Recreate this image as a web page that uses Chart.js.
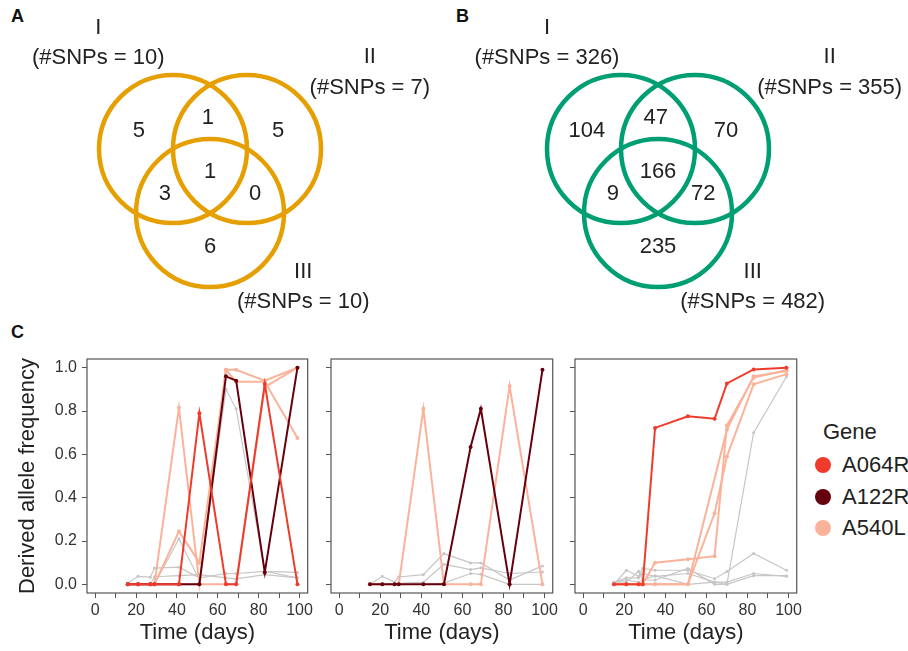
<!DOCTYPE html>
<html>
<head>
<meta charset="utf-8">
<script src="https://cdn.jsdelivr.net/npm/chart.js@4.4.1/dist/chart.umd.min.js"></script>
<style>
  body { margin: 0; background: #fff; }
  #page { position: relative; width: 908px; height: 651px; overflow: hidden;
          font-family: "Liberation Sans", Arial, Helvetica, sans-serif; color: #222; }
  canvas { position: absolute; }
  .tag { position: absolute; font-weight: bold; font-size: 18px; line-height: 18px; color: #111; }
  .lg { position: absolute; font-size: 22px; line-height: 26px; white-space: nowrap; }
  .dot { position: absolute; width: 16px; height: 16px; border-radius: 50%; }
</style>
</head>
<body>
<div id="page">
  <div class="tag" style="left:11px;top:7px">A</div>
  <div class="tag" style="left:456px;top:7px">B</div>
  <div class="tag" style="left:11px;top:323px">C</div>
  <canvas id="vennA" width="450" height="320" style="left:0;top:0"></canvas>
  <canvas id="vennB" width="458" height="320" style="left:450px;top:0"></canvas>
  <canvas id="c1" width="316" height="311" style="left:0;top:340px"></canvas>
  <canvas id="c2" width="245" height="311" style="left:316px;top:340px"></canvas>
  <canvas id="c3" width="244" height="311" style="left:561px;top:340px"></canvas>
  <div id="legend"></div>
</div>
<script>
// ---- Venn counts: I only, I&II, II only, I&II&III, I&III, II&III, III only
const setNames = ['I', 'II', 'III'];
const regionsA = [5, 1, 5, 1, 3, 0, 6];
const totalsA = [10, 7, 10];
const regionsB = [104, 47, 70, 166, 9, 72, 235];
const totalsB = [326, 355, 482];

// ---- allele frequency trajectories
const genes = ['A064R', 'A122R', 'A540L'];

const days1 = [16, 21, 27, 29, 41, 51, 64, 69, 83, 99];
const p1A064R = [0, 0, 0, 0, 0, 0.79, 0, 0, 0.925, 0];
const p1A122R = [0, 0, 0, 0, 0, 0, 0.96, 0.94, 0.055, 1.0];
const p1A540La = [0, 0, 0, 0, 0.815, 0, 0.99, 0.99, 0.94, 1.0];
const p1A540Lb = [0, 0, 0, 0, 0.245, 0.1, 0.99, 0.935, 0.935, 0.675];
const p1A540Lc = [0, 0, 0, 0, 0, 0, 0, 0, 0.91, 1.0];
const p1Other1 = [0.005, 0.037, 0.033, 0.075, 0.079, 0.03, 0.05, 0.05, 0.06, 0.055];
const p1Other2 = [0, 0, 0, 0, 0.21, 0.02, 0.9, 0.81, 0.06, 0.03];
const p1Other3 = [0, 0, 0, 0.035, 0.04, 0.045, 0.03, 0.025, 0.045, 0.03];

const days2 = [15, 21, 27, 29, 41, 51, 64, 69, 83, 99];
const p2A122R = [0, 0, 0, 0, 0, 0, 0.634, 0.81, 0, 0.99];
const p2A540L = [0, 0, 0, 0, 0.81, 0, 0, 0, 0.915, 0];
const p2Other1 = [0, 0.037, 0.01, 0.034, 0.045, 0.142, 0.099, 0.099, 0.02, 0.085];
const p2Other2 = [0, 0, 0, 0.005, 0.01, 0.093, 0.068, 0.076, 0.05, 0.057];
const p2Other3 = [0, 0, 0, 0, 0, 0.006, 0.05, 0.046, 0, 0];

const days3 = [15, 21, 27, 29, 35, 51, 64, 70, 83, 99];
const p3A064R = [0, 0, 0, 0, 0.722, 0.776, 0.764, 0.927, 0.992, 1.0];
const p3A540La = [0, 0, 0, 0, 0.1, 0.116, 0.13, 0.733, 0.954, 0.988];
const p3A540Lb = [0, 0, 0, 0, 0, 0, 0.328, 0.59, 0.923, 0.97];
const p3A540Lc = [0, 0, 0, 0, 0, 0, null, 0.714, 0.96, 0.985];
const p3Other1 = [0.01, 0.02, 0.01, 0.02, 0.04, 0, 0.01, 0, 0.7, 0.958];
const p3Other2 = [0, 0.065, 0.037, 0.074, 0.065, 0.065, 0.026, 0.059, 0.142, 0.065];
const p3Other3 = [0.01, 0.03, 0.03, 0.05, 0.037, 0.05, 0.01, 0.01, 0.05, 0.037];
const p3Other4 = [0.01, 0.01, 0.06, 0.02, 0.02, 0.073, 0, 0, 0.04, 0.04];

const xTicks = [0, 10, 20, 30, 40, 50, 60, 70, 80, 90, 100];
const yTicks = [0, 0.2, 0.4, 0.6, 0.8, 1.0];

const FONT = '"Liberation Sans", Arial, Helvetica, sans-serif';
const geneColors = { A064R: '#EF3B2C', A122R: '#67000D', A540L: '#FAB39A' };
const otherColor = '#C6C6C6';

// ---------------------------------------------------------------- Venn
// circle centres in units of the circle radius
const vennCentres = [[-0.5, 0], [0.5, 0], [0, 0.866]];
const regionPos = [[-0.96, -0.24], [-0.03, -0.42], [0.92, -0.24], [0, 0.31],
                   [-0.61, 0.61], [0.61, 0.61], [0, 1.32]];
const vennUnit = 74;

const vennText = {
  id: 'vennText',
  afterDatasetsDraw(chart, args, o) {
    const ctx = chart.ctx, sx = chart.scales.x, sy = chart.scales.y;
    ctx.save();
    ctx.fillStyle = '#222';
    ctx.font = '22px ' + FONT;
    ctx.textAlign = 'center';
    ctx.textBaseline = 'middle';
    o.regions.forEach((n, i) => {
      ctx.fillText(String(n), sx.getPixelForValue(regionPos[i][0]), sy.getPixelForValue(regionPos[i][1]));
    });
    o.totals.forEach((n, i) => {
      const [px, py] = o.setPos[i];
      ctx.fillText(setNames[i], sx.getPixelForValue(px), sy.getPixelForValue(py));
      ctx.fillText('(#SNPs = ' + n + ')', sx.getPixelForValue(px), sy.getPixelForValue(py + 0.41));
    });
    ctx.restore();
  }
};

function vennChart(id, ox, oy, regions, totals, setPos, color) {
  const el = document.getElementById(id);
  const w = el.width, h = el.height;
  new Chart(el, {
    type: 'scatter',
    data: {
      datasets: [{
        data: vennCentres.map(c => ({ x: c[0], y: c[1] })),
        pointRadius: ctx => {
          const s = ctx.chart.scales.x;
          return s.getPixelForValue(1) - s.getPixelForValue(0);
        },
        pointBorderWidth: 4.5,
        pointBorderColor: color,
        pointBackgroundColor: 'rgba(0,0,0,0)',
        clip: false
      }]
    },
    options: {
      responsive: false,
      animation: false,
      events: [],
      layout: { padding: 0 },
      plugins: {
        legend: { display: false },
        tooltip: { enabled: false },
        vennText: { regions, totals, setPos }
      },
      scales: {
        x: { type: 'linear', display: false, min: -ox / vennUnit, max: (w - ox) / vennUnit },
        y: { type: 'linear', display: false, reverse: true, min: -oy / vennUnit, max: (h - oy) / vennUnit }
      }
    },
    plugins: [vennText]
  });
}

vennChart('vennA', 210, 149, regionsA, totalsA, [[-1.51, -1.64], [2.16, -1.24], [1.26, 1.66]], '#E69F00');
vennChart('vennB', 208, 149, regionsB, totalsB, [[-1.50, -1.64], [2.32, -1.24], [1.28, 1.66]], '#009E73');

// ---------------------------------------------------------------- trajectories
const boxPlugin = {
  id: 'box',
  afterDatasetsDraw(chart) {
    const a = chart.chartArea, c = chart.ctx;
    c.save();
    c.strokeStyle = '#555';
    c.lineWidth = 1.2;
    c.strokeRect(a.left, a.top, a.right - a.left, a.bottom - a.top);
    c.restore();
  }
};

function lineChart(id, days, series, yWidth, first) {
  const datasets = series.map(s => {
    const col = s.gene ? geneColors[s.gene] : otherColor;
    return {
      data: days.map((d, i) => ({ x: d, y: s.values[i] })),
      borderColor: col,
      backgroundColor: col,
      borderWidth: s.gene ? 2 : 1.2,
      pointRadius: s.gene ? 2 : 1.5,
      pointBorderWidth: 0,
      showLine: true,
      spanGaps: true,
      tension: 0
    };
  });
  new Chart(document.getElementById(id), {
    type: 'scatter',
    data: { datasets },
    options: {
      responsive: false,
      animation: false,
      events: [],
      layout: { padding: { top: 19, right: 4, left: 0, bottom: 0 } },
      plugins: { legend: { display: false }, tooltip: { enabled: false } },
      scales: {
        x: {
          type: 'linear', min: -4, max: 104,
          afterBuildTicks: s => { s.ticks = xTicks.map(v => ({ value: v })); },
          afterFit: s => { s.height = 58; },
          border: { display: false },
          grid: { drawOnChartArea: false, drawTicks: true, tickLength: 5, color: '#555', lineWidth: 1 },
          ticks: {
            autoSkip: false, maxRotation: 0, padding: 3, color: '#333',
            font: { size: 16, family: FONT },
            callback: v => (v % 20 === 0 ? String(v) : '')
          },
          title: {
            display: true, text: 'Time (days)', color: '#222',
            font: { size: 22, family: FONT }, padding: { top: 0, bottom: 5 }
          }
        },
        y: {
          type: 'linear', min: -0.04, max: 1.04,
          afterBuildTicks: s => { s.ticks = yTicks.map(v => ({ value: v })); },
          afterFit: s => { s.width = yWidth; },
          border: { display: false },
          grid: { drawOnChartArea: false, drawTicks: true, tickLength: 5, color: '#555', lineWidth: 1 },
          ticks: {
            padding: 5, color: '#333',
            font: { size: 16, family: FONT },
            callback: v => (first ? v.toFixed(1) : '')
          },
          title: {
            display: first, text: 'Derived allele frequency', color: '#222',
            font: { size: 22, family: FONT }, padding: { top: 15, bottom: 0 }
          }
        }
      }
    },
    plugins: [boxPlugin]
  });
}

lineChart('c1', days1, [
  { gene: 'A064R', values: p1A064R },
  { gene: 'A122R', values: p1A122R },
  { gene: 'A540L', values: p1A540La },
  { gene: 'A540L', values: p1A540Lb },
  { gene: 'A540L', values: p1A540Lc },
  { gene: null, values: p1Other1 },
  { gene: null, values: p1Other2 },
  { gene: null, values: p1Other3 }
], 87, true);

lineChart('c2', days2, [
  { gene: 'A122R', values: p2A122R },
  { gene: 'A540L', values: p2A540L },
  { gene: null, values: p2Other1 },
  { gene: null, values: p2Other2 },
  { gene: null, values: p2Other3 }
], 15, false);

lineChart('c3', days3, [
  { gene: 'A064R', values: p3A064R },
  { gene: 'A540L', values: p3A540La },
  { gene: 'A540L', values: p3A540Lb },
  { gene: 'A540L', values: p3A540Lc },
  { gene: null, values: p3Other1 },
  { gene: null, values: p3Other2 },
  { gene: null, values: p3Other3 },
  { gene: null, values: p3Other4 }
], 14, false);

// ---------------------------------------------------------------- legend
const legend = document.getElementById('legend');
let html = '<div class="lg" style="left:823px;top:419px">Gene</div>';
genes.forEach((g, i) => {
  const cy = 465 + i * 31.5;
  html += '<div class="dot" style="left:815px;top:' + (cy - 8) + 'px;background:' + geneColors[g] + '"></div>';
  html += '<div class="lg" style="left:842px;top:' + (cy - 13) + 'px">' + g + '</div>';
});
legend.innerHTML = html;
</script>
</body>
</html>
